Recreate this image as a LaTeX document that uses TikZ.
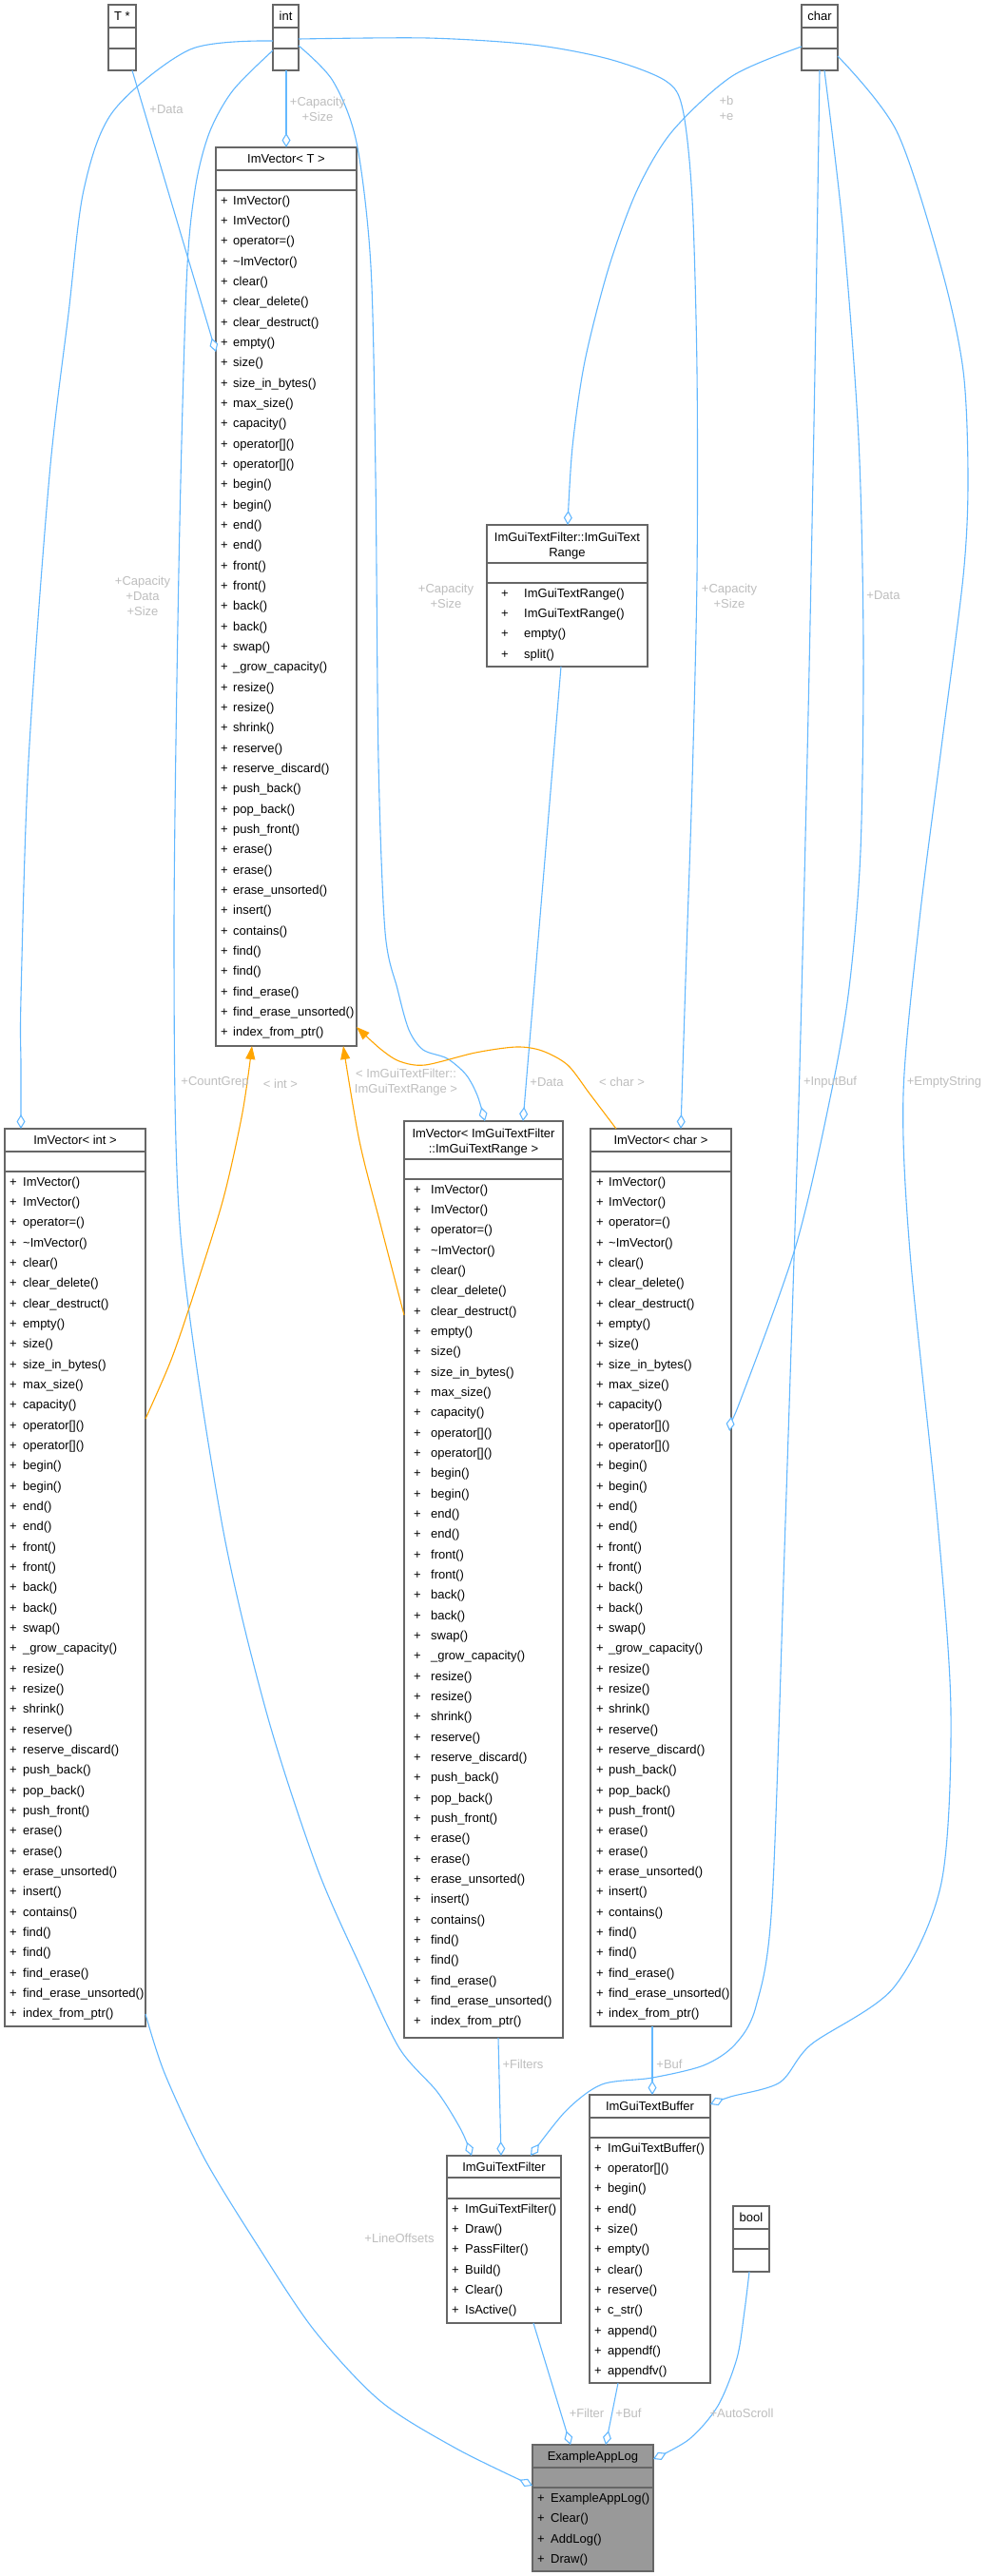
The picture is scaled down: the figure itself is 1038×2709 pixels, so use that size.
\documentclass[tikz,border=0pt]{standalone}
\usepackage{fontspec}
\setmainfont{Liberation Sans}
\usetikzlibrary{arrows.meta,calc}
\definecolor{edgeblue}{HTML}{63B8FF}
\definecolor{inhorange}{HTML}{FFA500}
\definecolor{boxgray}{HTML}{666666}
\definecolor{lblgray}{HTML}{BEBEBE}
\definecolor{logfill}{HTML}{999999}
\newcommand{\dfont}{\fontsize{13}{16}\selectfont}
\tikzset{
 cls/.style={draw=boxgray, line width=1.2pt, fill=white, anchor=north west, inner sep=0pt, outer sep=0pt},
 sepline/.style={draw=boxgray, line width=1.2pt},
 ttl/.style={anchor=base, inner sep=0pt, font=\dfont},
 mth/.style={anchor=base west, inner sep=0pt, font=\dfont},
 plus/.style={anchor=base, inner sep=0pt, font=\dfont},
 uses/.style={draw=edgeblue, line width=1.1pt, -{Diamond[length=15pt,width=9pt,fill=white,line width=1.1pt]}},
 inh/.style={draw=inhorange, line width=1.1pt, -{Triangle[length=14pt,width=10pt,fill=inhorange]}},
 lbl/.style={text=lblgray, inner sep=0pt, anchor=center, font=\dfont, align=center},
}
\newcommand{\clsframe}[8]{%
  \node[cls,#8,minimum width=#4pt, minimum height=#5pt] (#1) at (#2,#3) {};
  \draw[sepline] (#2,#6) -- ++(#4,0);
  \draw[sepline] (#2,#7) -- ++(#4,0);
}
\newcommand{\clsmembers}[5]{%
  \foreach \m [count=\i from 0] in #4 {
    \node[plus] (#5p\i) at (#1,{#3+\i*21.333}) {+};
    \node[mth] (#5m\i) at (#2,{#3+\i*21.333}) {\m};
  }}
\def\vecmlist{ImVector(), ImVector(), operator=(), \textasciitilde ImVector(), clear(), clear\_delete(), clear\_destruct(), empty(), size(), size\_in\_bytes(), max\_size(), capacity(), operator[](), operator[](), begin(), begin(), end(), end(), front(), front(), back(), back(), swap(), \_grow\_capacity(), resize(), resize(), shrink(), reserve(), reserve\_discard(), push\_back(), pop\_back(), push\_front(), erase(), erase(), erase\_unsorted(), insert(), contains(), find(), find(), find\_erase(), find\_erase\_unsorted(), index\_from\_ptr()}
\def\trmlist{ImGuiTextRange(), ImGuiTextRange(), empty(), split()}
\def\filtmlist{ImGuiTextFilter(), Draw(), PassFilter(), Build(), Clear(), IsActive()}
\def\bufmlist{ImGuiTextBuffer(), operator[](), begin(), end(), size(), empty(), clear(), reserve(), c\_str(), append(), appendf(), appendfv()}
\def\logmlist{ExampleAppLog(), Clear(), AddLog(), Draw()}
\begin{document}
\begin{tikzpicture}[x=1pt,y=-1pt]
\useasboundingbox[fill=white] (0,0) rectangle (1038,2709);

% ---------- boxes
\clsframe{tstar}{114}{5}{29}{69}{29}{51}{}
\clsframe{int}{287}{5}{27}{69}{29}{51}{}
\clsframe{char}{843}{5}{38}{69}{29}{51}{}
\clsframe{bool}{771}{2320}{38}{69}{2344}{2365}{}
\clsframe{vT}{227}{155}{148}{945}{179}{200}{}
\clsframe{vInt}{5}{1187}{148}{944}{1211}{1232}{}
\clsframe{vChar}{621}{1187}{148}{944}{1211}{1232}{}
\clsframe{vTR}{425}{1179}{167}{964}{1219}{1240}{}
\clsframe{tr}{512}{552}{169}{149}{592}{613}{}
\clsframe{filt}{470}{2267}{120}{176}{2290}{2312}{}
\clsframe{buf}{620}{2203}{127}{303}{2227}{2248}{}
\clsframe{log}{560}{2571}{127}{133}{2595}{2616}{fill=logfill}

% ---------- titles
\node[ttl] (tstar-t) at (128.5,21.3) {T *};
\node[ttl] (int-t) at (300.5,21.3) {int};
\node[ttl] (char-t) at (862,21.3) {char};
\node[ttl] (bool-t) at (790,2336.3) {bool};
\node[ttl] (vT-t) at (301,171.3) {ImVector< T >};
\node[ttl] (vInt-t) at (79,1203.3) {ImVector< int >};
\node[ttl] (vChar-t) at (695,1203.3) {ImVector< char >};
\node[ttl] (vTR-t1) at (508.5,1196.3) {ImVector< ImGuiTextFilter};
\node[ttl] (vTR-t2) at (508.5,1212.3) {::ImGuiTextRange >};
\node[ttl] (tr-t1) at (596.5,569.8) {ImGuiTextFilter::ImGuiText};
\node[ttl] (tr-t2) at (596.5,585.8) {Range};
\node[ttl] (filt-t) at (530,2283) {ImGuiTextFilter};
\node[ttl] (buf-t) at (683.5,2219.3) {ImGuiTextBuffer};
\node[ttl] (log-t) at (623.5,2587.3) {ExampleAppLog};

% ---------- members
\clsmembers{236}{245}{215.3}{\vecmlist}{vTm}
\clsmembers{14}{24}{1247.3}{\vecmlist}{vIntm}
\clsmembers{631}{640}{1247.3}{\vecmlist}{vCharm}
\clsmembers{439}{453}{1255.3}{\vecmlist}{vTRm}
\clsmembers{531}{551}{628.3}{\trmlist}{trm}
\clsmembers{479}{489}{2327.3}{\filtmlist}{filtm}
\clsmembers{629}{639}{2263.3}{\bufmlist}{bufm}
\clsmembers{569}{579}{2631.3}{\logmlist}{logm}

% ---------- usage edges
\draw[uses] ($(tstar.south west)+(25,0)$) -- ($(vT.north west)+(0,215)$);
\draw[uses] ($(int.south west)+(14,0)$) -- ($(vT.north west)+(74,0)$);
\draw[uses] plot[smooth] coordinates {($(int.north west)+(0,38)$) (200,52) (119,117) (88,200) (72,330) (52,500) (30,800) (22,1050) (22,1120) ($(vInt.north west)+(17,0)$)};
\draw[uses] plot[smooth] coordinates {($(int.north west)+(0,48)$) (245,95) (220,140) (205,200) (196,300) (188,600) (183,1000) (190,1300) (233,1600) (280,1800) (333,1963) (380,2070) (420,2154) (460,2200) (485,2240) ($(filt.north west)+(26,0)$)};
\draw[uses] plot[smooth] coordinates {($(int.north east)+(0,43)$) (350,85) (375,150) (390,280) (395,500) (398,800) (405,980) (418,1040) (430,1083) (445,1104) (470,1113) (490,1130) (502,1152) ($(vTR.north west)+(85,0)$)};
\draw[uses] plot[smooth] coordinates {($(char.north west)+(0,44)$) (770,80) (707,138) (670,200) (640,282) (615,380) (602,470) ($(tr.north west)+(85,0)$)};
\draw[uses] plot[smooth] coordinates {($(int.north east)+(0,36)$) (450,40) (560,47) (640,62) (700,85) (718,115) (728,210) (733,390) (733,606) (728,822) (722,1000) ($(vChar.north west)+(95,0)$)};
\draw[uses] plot[smooth] coordinates {($(char.south west)+(24,0)$) (887,246) (903,462) (908,678) (905,895) (893,1039) (874,1150) (837,1310) (777,1477) ($(vChar.north east)+(0,303)$)};
\draw[uses] plot[smooth] coordinates {($(char.north east)+(0,54)$) (943,138) (990,282) (1013,390) (1018,505) (1013,606) (990,786) (967,967) (950,1150) (957,1317) (986,1600) (1000,1800) (990,1980) (940,2090) (853,2150) (820,2190) (768,2205) ($(buf.north east)+(0,10)$)};
\draw[uses] plot[smooth] coordinates {($(char.south west)+(19,0)$) (857,390) (850,750) (840,1160) (826,1600) (812,2000) (795,2110) (773,2150) (740,2172) (686,2185) (633,2192) (595,2220) ($(filt.north west)+(88,0)$)};
\draw[uses] ($(vChar.south west)+(65,0)$) -- ($(buf.north west)+(66,0)$);
\draw[uses] ($(vTR.south west)+(99,0)$) -- ($(filt.north west)+(57,0)$);
\draw[uses] ($(tr.south west)+(78,0)$) -- ($(vTR.north west)+(125,0)$);
\draw[uses] ($(filt.south west)+(91,0)$) -- ($(log.north west)+(40,0)$);
\draw[uses] ($(buf.south west)+(30,0)$) -- ($(log.north west)+(77,0)$);
\draw[uses] plot[smooth] coordinates {($(bool.south west)+(17,0)$) (783,2430) (775,2480) (755,2530) (725,2565) ($(log.north east)+(0,15)$)};
\draw[uses] plot[smooth] coordinates {($(vInt.north east)+(0,931)$) (173,2180) (215,2270) (270,2360) (330,2450) (400,2525) (480,2575) ($(log.north west)+(0,43)$)};

% ---------- inheritance edges
\draw[inh] plot[smooth] coordinates {($(vInt.north east)+(0,305)$) (180,1430) (205,1357) (235,1260) (255,1170) ($(vT.south west)+(38,0)$)};
\draw[inh] plot[smooth] coordinates {($(vTR.north west)+(0,204)$) (400,1287) (378,1200) ($(vT.south west)+(134,0)$)};
\draw[inh] plot[smooth] coordinates {($(vChar.north west)+(27,0)$) (620,1150) (597,1120) (570,1105) (543,1101) (500,1107) (447,1120) (420,1116) (400,1103) ($(vT.south east)+(0,-20)$)};

% ---------- labels
\node[lbl] (l-data1) at (175,115) {+Data};
\node[lbl] (l-cs1) at (334,115) {+Capacity\\+Size};
\node[lbl] (l-be) at (764,114) {+b\\+e};
\node[lbl] (l-cds) at (150,627) {+Capacity\\+Data\\+Size};
\node[lbl] (l-cs2) at (469,627) {+Capacity\\+Size};
\node[lbl] (l-cs3) at (767,627) {+Capacity\\+Size};
\node[lbl] (l-data2) at (929,626) {+Data};
\node[lbl] (l-cg) at (226,1138) {+CountGrep};
\node[lbl] (l-ib) at (873,1138) {+InputBuf};
\node[lbl] (l-es) at (993,1138) {+EmptyString};
\node[lbl] (l-int) at (295,1140) {< int >};
\node[lbl] (l-tr) at (427,1138) {< ImGuiTextFilter::\\ImGuiTextRange >};
\node[lbl] (l-data3) at (575,1138) {+Data};
\node[lbl] (l-char) at (654,1138) {< char >};
\node[lbl] (l-filters) at (550,2171) {+Filters};
\node[lbl] (l-buf1) at (704,2171) {+Buf};
\node[lbl] (l-lo) at (420,2354) {+LineOffsets};
\node[lbl] (l-filter) at (617,2538) {+Filter};
\node[lbl] (l-buf2) at (661,2538) {+Buf};
\node[lbl] (l-as) at (780,2538) {+AutoScroll};
\end{tikzpicture}
\end{document}
